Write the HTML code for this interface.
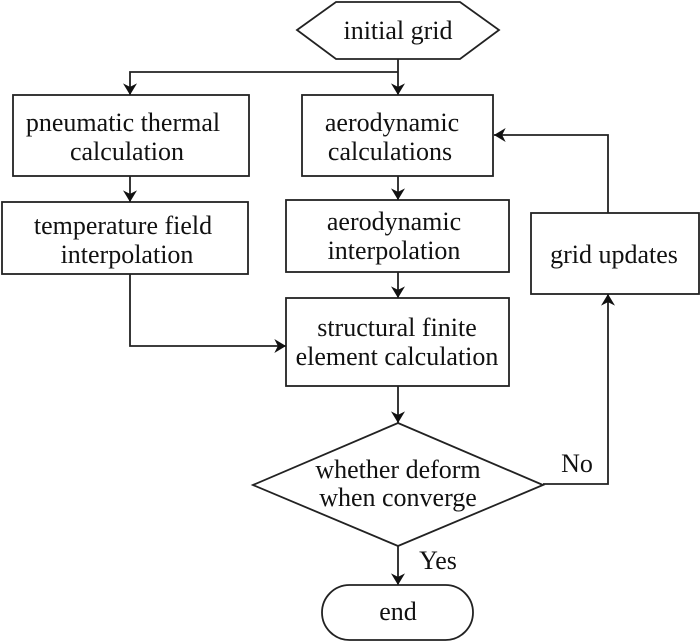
<!DOCTYPE html>
<html><head><meta charset="utf-8"><style>
html,body{margin:0;padding:0;background:#fff;}
svg{display:block;}
text{font-family:"Liberation Serif",serif;font-size:26px;fill:#111;text-anchor:middle;}
</style></head><body>
<svg width="700" height="642" viewBox="0 0 700 642" xmlns="http://www.w3.org/2000/svg">
<defs>
<marker id="a" viewBox="0 0 10 12" refX="10" refY="6" markerWidth="13" markerHeight="14" markerUnits="userSpaceOnUse" orient="auto">
<path d="M0,0 L10,6 L0,12 L3,6 Z" fill="#111"/>
</marker>
</defs>
<g fill="none" stroke="#222" stroke-width="1.8">
<polygon points="297,30 336,2 460,2 499,30 460,59 336,59"/>
<rect x="13" y="95" width="236" height="81"/>
<rect x="302" y="95" width="191" height="81"/>
<rect x="2" y="202" width="246" height="72"/>
<rect x="286" y="200" width="223" height="72"/>
<rect x="531" y="213" width="168" height="81"/>
<rect x="286" y="298" width="223" height="88"/>
<polygon points="253,485 398,423 543,485 398,546"/>
<rect x="322" y="585" width="151" height="55" rx="27.5"/>
<path d="M398,59 V95" marker-end="url(#a)"/>
<path d="M398,72 H130 V95" marker-end="url(#a)"/>
<path d="M130,176 V202" marker-end="url(#a)"/>
<path d="M398,176 V200" marker-end="url(#a)"/>
<path d="M398,272 V298" marker-end="url(#a)"/>
<path d="M130,274 V346 H286" marker-end="url(#a)"/>
<path d="M398,386 V423" marker-end="url(#a)"/>
<path d="M398,546 V585" marker-end="url(#a)"/>
<path d="M543,484 H608 V294" marker-end="url(#a)"/>
<path d="M608,213 V135 H494" marker-end="url(#a)"/>
</g>
<text x="398" y="39">initial grid</text>
<text x="123" y="131">pneumatic thermal</text>
<text x="127" y="160">calculation</text>
<text x="392" y="131">aerodynamic</text>
<text x="390" y="160">calculations</text>
<text x="123" y="234">temperature field</text>
<text x="127" y="263">interpolation</text>
<text x="394" y="230">aerodynamic</text>
<text x="394" y="259">interpolation</text>
<text x="614" y="263">grid updates</text>
<text x="397" y="336">structural finite</text>
<text x="397" y="365">element calculation</text>
<text x="398" y="478">whether deform</text>
<text x="398" y="506">when converge</text>
<text x="398" y="620">end</text>
<text x="577" y="472">No</text>
<text x="438" y="569">Yes</text>
</svg>
</body></html>
